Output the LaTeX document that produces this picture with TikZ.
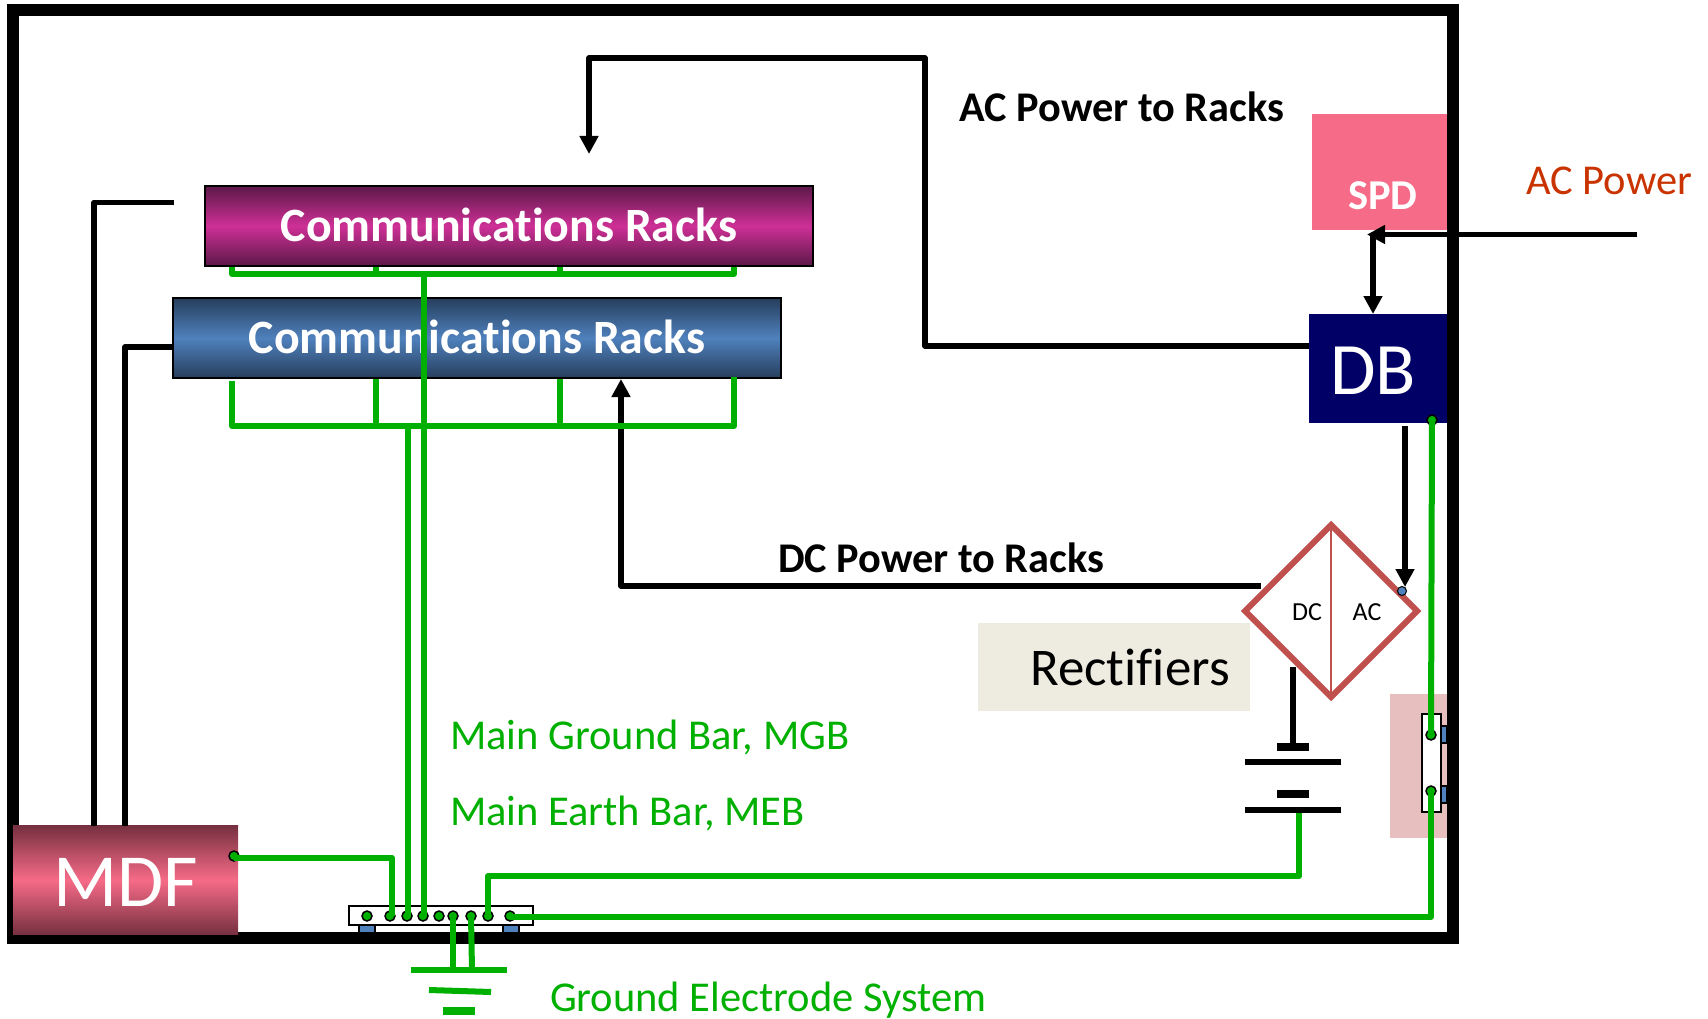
\documentclass[tikz,border=0pt]{standalone}
\usepackage{fontspec}
\setmainfont[Ligatures=NoCommon]{Carlito}
\usetikzlibrary{arrows.meta,shapes.geometric}
\definecolor{gline}{HTML}{00B000}
\definecolor{pinkbox}{HTML}{F66B87}
\definecolor{pinkdark}{HTML}{763040}
\definecolor{magmid}{HTML}{CE3096}
\definecolor{magdark}{HTML}{5C1848}
\definecolor{bluemid}{HTML}{4F81BD}
\definecolor{bluedark}{HTML}{263E5C}
\definecolor{navybox}{HTML}{000066}
\definecolor{creambox}{HTML}{EEECE1}
\definecolor{redtext}{HTML}{C93300}
\definecolor{diared}{HTML}{C0504D}
\definecolor{pad}{HTML}{E8BFBF}
\newcommand{\fsz}[1]{\fontsize{#1}{#1}\selectfont}
\tikzset{
  box/.style={rectangle,inner sep=0pt,outer sep=0pt,anchor=center},
  rack/.style={box,draw=black,line width=2pt,minimum width=608pt,minimum height=80pt},
  racktext/.style={label,text=white,font=\fsz{47.8}\bfseries},
  label/.style={inner sep=0pt,outer sep=0pt},
  greentext/.style={label,text=gline,font=\fsz{42.5},anchor=west},
  blk/.style={draw=black,line width=5.5pt,line join=round},
  grn/.style={draw=gline,line width=6pt,line join=round},
  head/.style={-{Triangle[width=18pt,length=18pt]}},
  dot/.style={circle,fill=gline,draw=black,line width=1.5pt,minimum size=10pt,inner sep=0pt,outer sep=0pt},
  foot/.style={box,fill=bluemid,draw=black,line width=1.2pt},
  plate/.style={box,fill=black},
}
\begin{document}
\begin{tikzpicture}[x=1pt,y=-1pt]
\useasboundingbox (0,0) rectangle (1708,1019);
% frame
\node[box,draw=black,line width=12pt,minimum width=1440pt,minimum height=928pt] (frame) at (733,474) {};
% pad and side bar
\node[box,fill=pad,minimum width=57pt,minimum height=144pt] (padbox) at (1418.5,766) {};
\node[foot,minimum width=6pt,minimum height=17pt] (sideA) at (1444,734.5) {};
\node[foot,minimum width=6pt,minimum height=17pt] (sideB) at (1444,794.5) {};
\node[box,fill=white,draw=black,line width=1.5pt,minimum width=19pt,minimum height=98pt] (sidebar) at (1431.5,763) {};
% boxes
\node[box,fill=pinkbox,minimum width=135pt,minimum height=116pt] (spd) at (1379.5,172) {};
\node[box,fill=navybox,minimum width=138pt,minimum height=109pt] (db) at (1378,368.5) {};
\node[box,fill=creambox,minimum width=272pt,minimum height=88pt] (rectbox) at (1114,667) {};
\node[box,top color=pinkdark,bottom color=pinkdark,middle color=pinkbox,minimum width=225pt,minimum height=109pt] (mdf) at (125.5,880) {};
\node[label,text=white,font=\fsz{75}] (mdft) at (125.5,882) {MDF};
\node[label,text=white,font=\fsz{42.5}\bfseries] (spdt) at (1383,196) {SPD};
\node[label,text=white,font=\fsz{74}] (dbt) at (1373,371) {DB};
\node[label,font=\fsz{53}] (rectt) at (1130,667) {Rectifiers};
% racks
\node[rack,top color=magdark,bottom color=magdark,middle color=magmid] (rackA) at (509,226) {};
\node[racktext] (rackAt) at (509,225) {Communications Racks};
\node[rack,top color=bluedark,bottom color=bluedark,middle color=bluemid] (rackB) at (477,338) {};
\node[racktext] (rackBt) at (477,337) {Communications Racks};
% text labels
\node[label,font=\fsz{42.3}\bfseries] (acr) at (1122,107) {AC Power to Racks};
\node[label,font=\fsz{42.3}\bfseries] (dcr) at (941,558) {DC Power to Racks};
\node[label,text=redtext,font=\fsz{42.5}] (acp) at (1609,181) {AC Power};
\node[greentext] (mgb) at (450,737.5) {Main Ground Bar, MGB};
\node[greentext] (meb) at (450,813.5) {Main Earth Bar, MEB};
\node[greentext] (ges) at (550,1000) {Ground Electrode System};
% rectifier diamond
\node[diamond,draw=diared,line width=6pt,inner sep=0pt,outer sep=0pt,aspect=1,minimum width=172pt,minimum height=172pt] (rect) at (1331,611) {};
\draw[diared,line width=1.5pt] (rect.north) -- (rect.south);
\node[label,font=\fsz{26}] (dct) at (1307,612) {DC};
\node[label,font=\fsz{26}] (act) at (1367,612) {AC};
\node[circle,fill=bluemid,draw=black,line width=1pt,minimum size=9pt,inner sep=0pt] (acin) at (1402,591) {};
% earth bar
\node[foot,minimum width=16pt,minimum height=8pt] (feetA) at (367,929) {};
\node[foot,minimum width=16pt,minimum height=8pt] (feetB) at (511,929) {};
\node[box,fill=white,draw=black,line width=1.5pt,minimum width=184pt,minimum height=19pt] (bar) at (441,915.5) {};
% battery
\node[plate,minimum width=32pt,minimum height=8pt] (batA) at (1293,747) {};
\node[plate,minimum width=96pt,minimum height=6pt] (batB) at (1293,762) {};
\node[plate,minimum width=32pt,minimum height=8pt] (batC) at (1293,794) {};
\node[plate,minimum width=96pt,minimum height=6pt] (batD) at (1293,810) {};
% coordinates
\coordinate (dcS) at (1261,586);
\coordinate (dcC) at (621,586);
\coordinate (dcE) at (621,379);
\coordinate (dbW) at (1309,346);
\coordinate (acC1) at (925,346);
\coordinate (acC2) at (925,58);
\coordinate (acC3) at (589,58);
\coordinate (acE) at (589,154);
\coordinate (acS) at (1637,234.5);
\coordinate (acT) at (1367,234.5);
\coordinate (vT) at (1373,234);
\coordinate (vB) at (1373,314);
\coordinate (rdS) at (1405,426);
\coordinate (rdE) at (1405,587);
\coordinate (batS) at (1293,667);
\coordinate (lA) at (174,202.5);
\coordinate (lAc) at (94,202.5);
\coordinate (lAe) at (94,826);
\coordinate (lB) at (172,347);
\coordinate (lBc) at (125,347);
\coordinate (lBe) at (125,826);
% black connectors
\draw[blk,head] (dcS) -- (dcC) -- (dcE);
\draw[blk,head] (dbW) -- (acC1) -- (acC2) -- (acC3) -- (acE);
\draw[blk,head] (acS) -- (acT);
\draw[blk,head] (vT) -- (vB);
\draw[blk,head] (rdS) -- (rdE);
\draw[blk,line width=6pt] (batS) -- (batA.north);
\draw[blk] (lA) -- (lAc) -- (lAe);
\draw[blk] (lB) -- (lBc) -- (lBe);
% green buses
\coordinate (aa1) at (232,267); \coordinate (aa2) at (376,267); \coordinate (aa3) at (560,267); \coordinate (aa4) at (734,267);
\coordinate (ab1) at (232,274); \coordinate (ab2) at (376,274); \coordinate (ab3) at (560,274); \coordinate (ab4) at (734,274);
\coordinate (ba1) at (232,381); \coordinate (ba2) at (376,379); \coordinate (ba3) at (560,379); \coordinate (ba4) at (734,377);
\coordinate (bb1) at (232,426); \coordinate (bb2) at (376,426); \coordinate (bb3) at (560,426); \coordinate (bb4) at (734,426);
\draw[grn] (aa1) -- (ab1) -- (ab4) -- (aa4);
\draw[grn] (aa2) -- (ab2);
\draw[grn] (aa3) -- (ab3);
\draw[grn] (ba1) -- (bb1) -- (bb4) -- (ba4);
\draw[grn] (ba2) -- (bb2);
\draw[grn] (ba3) -- (bb3);
% bar dots
\node[dot] (d1) at (367,916) {};
\node[dot] (d2) at (390,916) {};
\node[dot] (d3) at (407,916) {};
\node[dot] (d4) at (423,916) {};
\node[dot] (d5) at (439,916) {};
\node[dot] (d6) at (453,916) {};
\node[dot] (d7) at (471,916) {};
\node[dot] (d8) at (488,916) {};
\node[dot] (d9) at (510,916) {};
\node[dot] (mdfd) at (234,856) {};
\node[dot] (dbd) at (1432,420) {};
\node[dot] (sd1) at (1431,735) {};
\node[dot] (sd2) at (1431,791) {};
% green connectors
\coordinate (c407) at (408,426);
\coordinate (c408) at (408,916);
\coordinate (c424) at (424,274);
\coordinate (c424b) at (424,916);
\draw[grn] (c407) -- (c408);
\draw[grn] (c424) -- (c424b);
\coordinate (m1) at (234,858);
\coordinate (m2) at (392,858);
\coordinate (m3) at (392,916);
\draw[grn] (m1) -- (m2) -- (m3);
\coordinate (b1) at (488,876);
\coordinate (b2) at (1299,876);
\coordinate (b3) at (1299,813);
\draw[grn] (d8.center) -- (b1) -- (b2) -- (b3);
\coordinate (e1) at (1431,917);
\coordinate (e0) at (510,917);
\draw[grn] (e0) -- (e1) -- (sd2.center);
\draw[grn] (dbd.center) -- (sd1.center);
% ground symbol
\coordinate (g1) at (453,970);
\coordinate (g2) at (472,970);
\coordinate (g3a) at (411,970);
\coordinate (g3b) at (507,970);
\coordinate (g4a) at (429,990);
\coordinate (g4b) at (491,992);
\coordinate (g5a) at (443,1011);
\coordinate (g5b) at (475,1011);
\draw[grn] (d6.center) -- (g1);
\draw[grn] (d7.center) -- (g2);
\draw[grn,line width=6pt] (g3a) -- (g3b);
\draw[grn,line width=6pt] (g4a) -- (g4b);
\draw[grn,line width=8pt] (g5a) -- (g5b);
% redraw dots over line ends
\foreach \n in {d2,d3,d4,d6,d7,d8,d9,mdfd,dbd,sd1,sd2}{
  \fill[gline] (\n) circle (3.5pt);
}
\end{tikzpicture}
\end{document}
